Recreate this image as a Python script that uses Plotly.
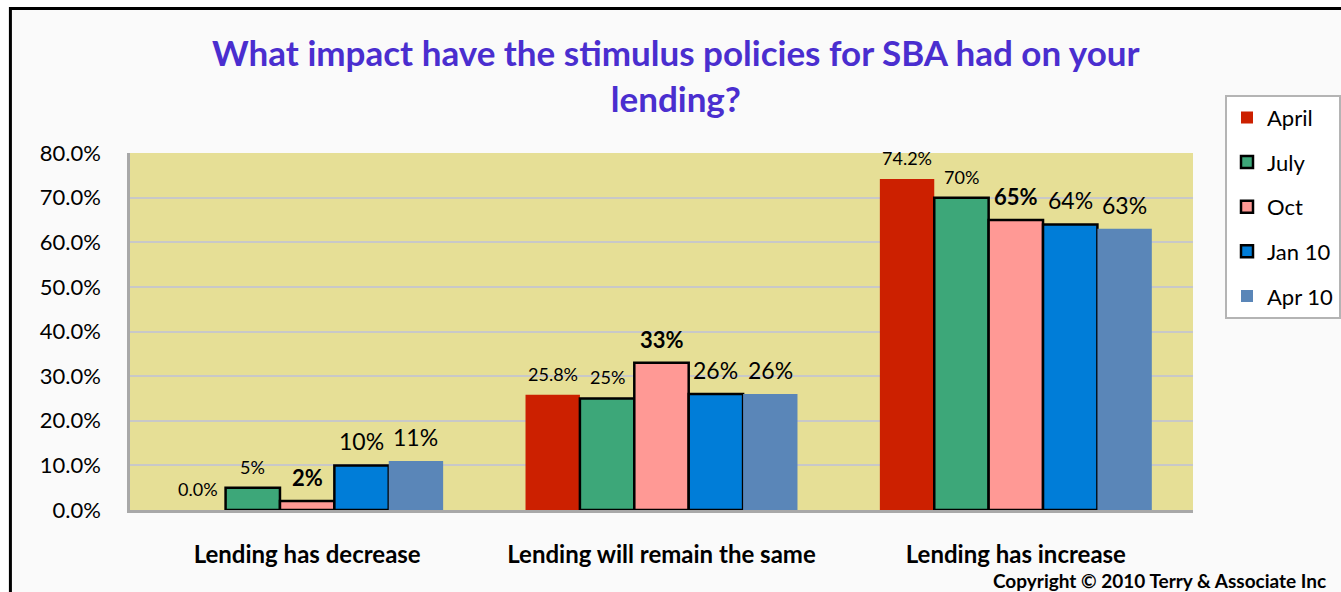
import plotly.graph_objects as go

# Survey answers by category
categories = ["Lending has decrease", "Lending will remain the same", "Lending has increase"]

# Share of respondents (%) per survey wave
april = [0.0, 25.8, 74.2]
july = [5, 25, 70]
october = [2, 33, 65]
jan10 = [10, 26, 64]
apr10 = [11, 26, 63]

series_names = ["April", "July", "Oct", "Jan 10", "Apr 10"]
series_values = [april, july, october, jan10, apr10]

# Visual styling per series
fill_colors = ["#CC2000", "#3DA779", "#FF9995", "#007DD8", "#5A86B8"]
outline = [False, True, True, True, False]
label_decimals = [1, 0, 0, 0, 0]
label_size = [18, 18, 22, 23, 23]
label_bold = [False, False, True, False, False]

FONT = "Lato, 'Open Sans', sans-serif"
BAR_W = 0.1535  # width of one bar in category units
n_series = len(series_names)

fig = go.Figure()
annotations = []

for j, (name, vals) in enumerate(zip(series_names, series_values)):
    offset = (j - (n_series - 1) / 2) * BAR_W
    xs = [i + offset for i in range(len(categories))]
    fig.add_trace(go.Bar(
        x=xs,
        y=vals,
        width=BAR_W,
        name=name,
        legendgroup=name,
        marker=dict(
            color=fill_colors[j],
            line=dict(color="#000000" if outline[j] else fill_colors[j],
                      width=2.5 if outline[j] else 0),
        ),
        hoverinfo="skip",
    ))
    for x, v in zip(xs, vals):
        txt = f"{v:.{label_decimals[j]}f}%"
        if label_bold[j]:
            txt = f"<b>{txt}</b>"
        annotations.append(dict(
            x=x, y=v, xref="x", yref="y", text=txt, showarrow=False,
            yanchor="bottom", xanchor="center", yshift=8,
            font=dict(family=FONT, size=label_size[j], color="#000000"),
        ))

annotations.append(dict(
    x=1.127, y=-0.197, xref="paper", yref="paper",
    text="<b>Copyright © 2010 Terry & Associate Inc</b>",
    showarrow=False, xanchor="right", yanchor="middle",
    font=dict(family=FONT, size=19, color="#000000"),
))

fig.update_layout(
    width=1341,
    height=592,
    barmode="overlay",
    paper_bgcolor="#FFFFFF",
    plot_bgcolor="#E6DF96",
    margin=dict(l=130, r=148, t=153, b=82, autoexpand=False),
    title=dict(
        text="<b>What impact have the stimulus policies for SBA had on your<br>lending?</b>",
        x=0.504, xanchor="center", xref="container",
        y=0.888, yanchor="top", yref="container",
        font=dict(family=FONT, size=35, color="#4A2ECF"),
    ),
    xaxis=dict(
        range=[-0.5, 2.5],
        tickmode="array",
        tickvals=list(range(len(categories))),
        ticktext=[f"<b>{c}</b>" for c in categories],
        tickfont=dict(family=FONT, size=24, color="#000000"),
        showgrid=False,
        zeroline=False,
        showline=True,
        linecolor="#A8A8A8",
        linewidth=2.5,
        ticks="",
        ticklabelstandoff=21,
        automargin=False,
        fixedrange=True,
    ),
    yaxis=dict(
        range=[0, 80],
        dtick=10,
        tickformat=".1f",
        ticksuffix="%",
        tickfont=dict(family=FONT, size=22, color="#000000"),
        showgrid=True,
        gridcolor="#C8C8C8",
        gridwidth=2,
        zeroline=False,
        showline=True,
        linecolor="#A8A8A8",
        linewidth=2.5,
        ticks="",
        ticklabelstandoff=22,
        automargin=False,
        fixedrange=True,
    ),
    legend=dict(
        x=0.9135, y=0.84, xanchor="left", yanchor="top",
        xref="container", yref="container",
        bgcolor="#FFFFFF",
        bordercolor="#B4B4B4",
        borderwidth=2,
        font=dict(family=FONT, size=22, color="#000000"),
        tracegroupgap=13,
        itemwidth=30,
        traceorder="grouped",
    ),
    annotations=annotations,
    shapes=[
        # outer chart frame
        dict(type="rect", xref="paper", yref="paper",
             x0=-0.1125, x1=1.15, y0=-0.4, y1=1.405,
             line=dict(color="#000000", width=3),
             fillcolor="#FAFAFA", layer="below"),
        # plot area fill, drawn above the frame fill
        dict(type="rect", xref="x domain", yref="y domain",
             x0=0, x1=1, y0=0, y1=1,
             line=dict(width=0),
             fillcolor="#E6DF96", layer="below"),
    ],
)

fig.write_html("out.html")
